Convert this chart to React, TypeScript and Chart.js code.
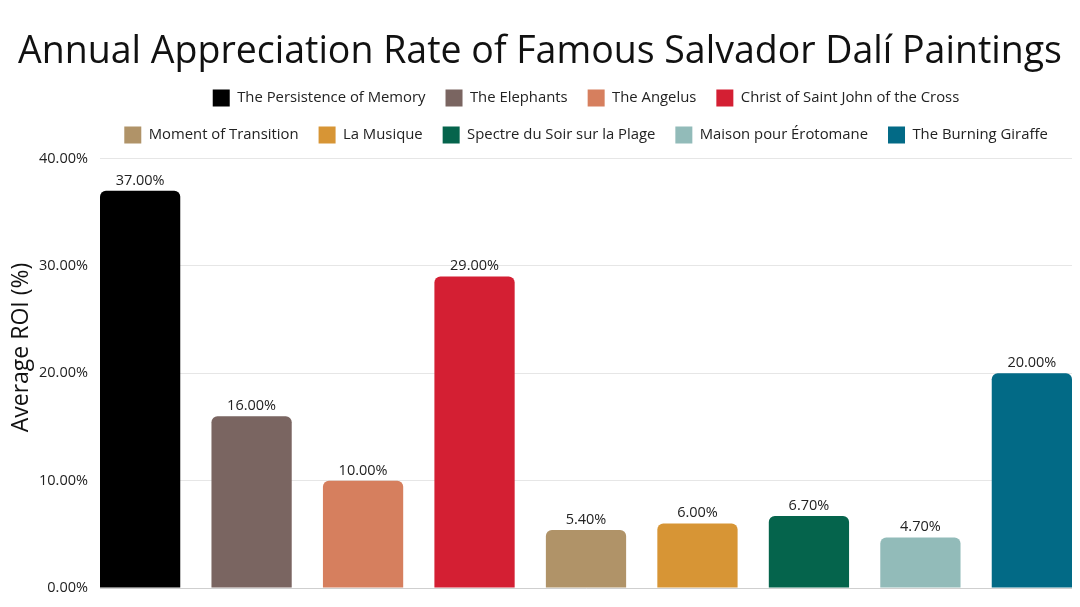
import { useEffect, useRef } from "react";
import { Chart, registerables } from "chart.js";

Chart.register(...registerables);

const paintings = [
  "The Persistence of Memory",
  "The Elephants",
  "The Angelus",
  "Christ of Saint John of the Cross",
  "Moment of Transition",
  "La Musique",
  "Spectre du Soir sur la Plage",
  "Maison pour Érotomane",
  "The Burning Giraffe",
];

const roiValues = [37, 16, 10, 29, 5.4, 6, 6.7, 4.7, 20];

const barColors = [
  "#000000",
  "#7a6561",
  "#d67f5e",
  "#d41f33",
  "#b09368",
  "#d79535",
  "#05644c",
  "#92bbb9",
  "#026a86",
];

const yAxisTitle = "Average ROI (%)";

const FONT = "'Open Sans', sans-serif";

// writes the value above each bar
const barValueLabels = {
  id: "barValueLabels",
  afterDatasetsDraw(chart: Chart) {
    const ctx = chart.ctx;
    ctx.save();
    ctx.font = `14.5px ${FONT}`;
    ctx.fillStyle = "#222";
    ctx.textAlign = "center";
    ctx.textBaseline = "bottom";
    chart.data.datasets.forEach((ds, i) => {
      const meta = chart.getDatasetMeta(i);
      if (meta.hidden) return;
      meta.data.forEach((bar: any, j) => {
        const point = ds.data[j] as { x: number; y: number };
        ctx.fillText(point.y.toFixed(2) + "%", bar.x, bar.y - 3);
      });
    });
    ctx.restore();
  },
};

// a bit more room between the legend and the plot
const legendGap = {
  id: "legendGap",
  beforeUpdate(chart: any) {
    const legend = chart.legend;
    if (legend && !legend._gapPatched) {
      const fit = legend.fit;
      legend.fit = function () {
        fit.call(this);
        this.height += 5;
      };
      legend._gapPatched = true;
    }
  },
};

// the y title sits a little above the middle of the axis in the original
const yTitle = {
  id: "yTitle",
  afterDraw(chart: Chart) {
    const { ctx, chartArea } = chart;
    ctx.save();
    ctx.font = `23px ${FONT}`;
    ctx.fillStyle = "#111";
    ctx.textAlign = "center";
    ctx.textBaseline = "middle";
    ctx.translate(13, chartArea.top + chartArea.height * 0.44);
    ctx.rotate(-Math.PI / 2);
    ctx.fillText(yAxisTitle, 0, 0);
    ctx.restore();
  },
};

export default function App() {
  const canvasRef = useRef<HTMLCanvasElement | null>(null);

  useEffect(() => {
    if (!canvasRef.current) return;
    const chart = new Chart(canvasRef.current, {
      type: "bar",
      data: {
        datasets: paintings.map((name, i) => ({
          label: name,
          data: [{ x: i, y: roiValues[i] }],
          backgroundColor: barColors[i],
          borderRadius: { topLeft: 6, topRight: 6 },
          borderSkipped: "bottom",
          grouped: false,
          categoryPercentage: 1,
          barPercentage: 0.72,
        })),
      },
      options: {
        animation: false,
        responsive: true,
        maintainAspectRatio: false,
        layout: { padding: 0 },
        plugins: {
          title: {
            display: true,
            text: "Annual Appreciation Rate of Famous Salvador Dalí Paintings",
            color: "#111",
            font: { family: FONT, size: 37.5, weight: "normal", lineHeight: 0.92 },
            padding: { top: 27, bottom: 0 },
          },
          legend: {
            position: "top",
            fullSize: false,
            labels: {
              color: "#222",
              font: { family: FONT, size: 14.85 },
              boxWidth: 17,
              boxHeight: 17,
              padding: 20,
            },
          },
          tooltip: { enabled: false },
        },
        scales: {
          x: {
            type: "linear",
            offset: false,
            min: -0.36,
            max: 8.36,
            ticks: { display: false },
            grid: { display: false, drawTicks: false },
            border: { display: true, color: "#cfcfcf" },
            afterFit: (scale) => {
              scale.height = 11;
            },
          },
          y: {
            min: 0,
            max: 40,
            ticks: {
              stepSize: 10,
              color: "#222",
              font: { family: FONT, size: 14.5 },
              padding: 12,
              callback: (v) => Number(v).toFixed(2) + "%",
            },
            grid: { color: "#e6e6e6", drawTicks: false },
            border: { display: false },
            afterFit: (scale: any) => {
              scale.width = 92;
              scale.paddingTop = 9;
              scale.paddingBottom = 9;
            },
          },
        },
      },
      plugins: [barValueLabels, legendGap, yTitle],
    });
    return () => chart.destroy();
  }, []);

  return (
    <div style={{ width: 1064, height: 591 }}>
      <canvas ref={canvasRef}></canvas>
    </div>
  );
}
